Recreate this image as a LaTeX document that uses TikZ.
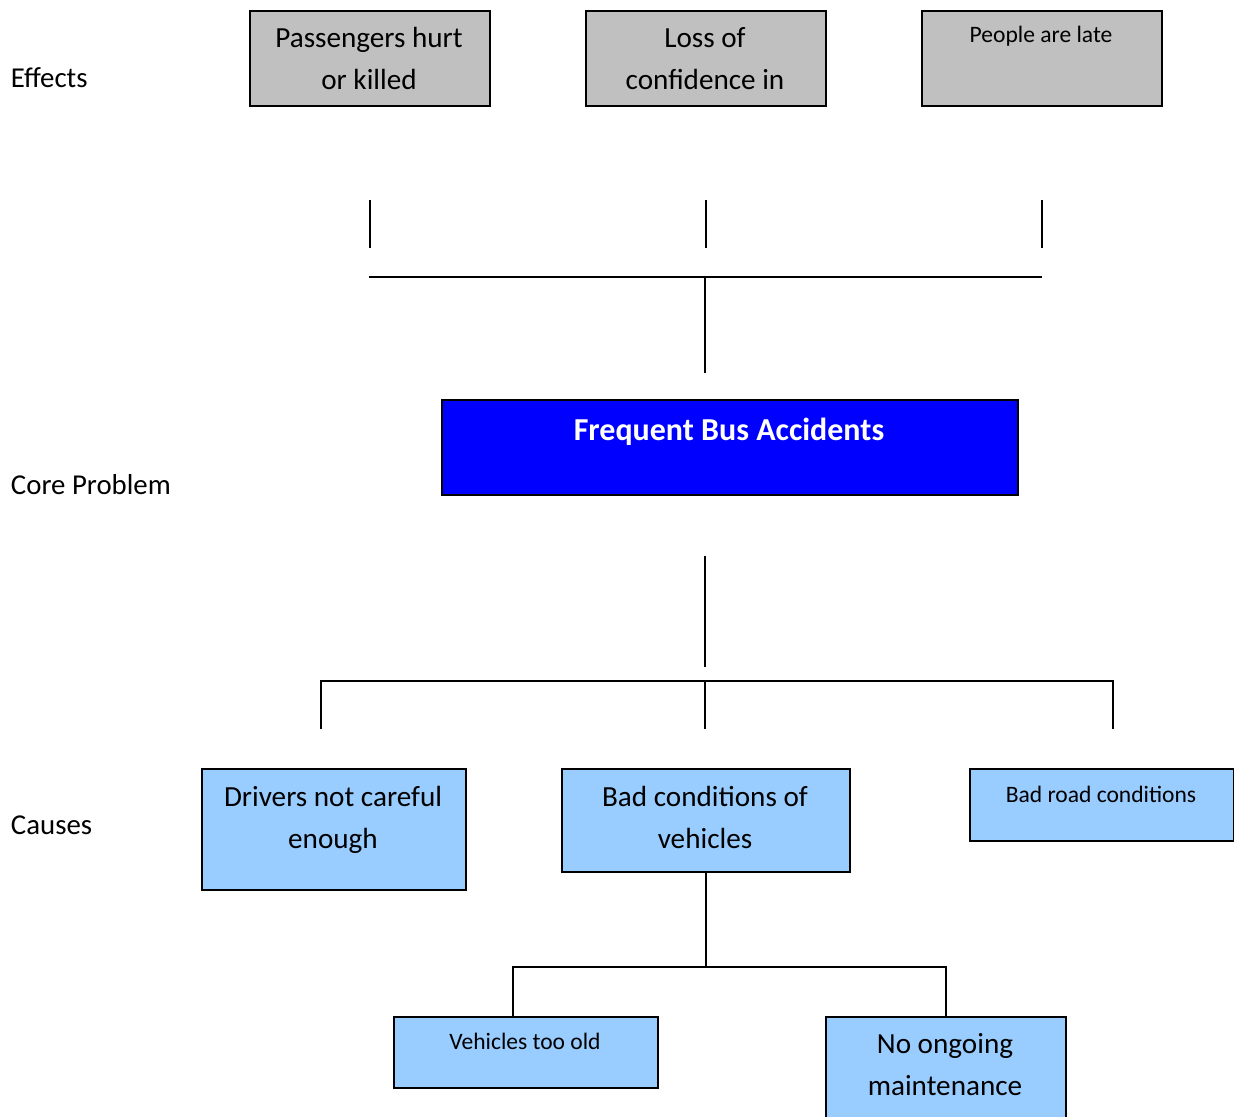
\documentclass[tikz,border=0pt]{standalone}
\usepackage{fontspec}
\setmainfont{Carlito}
\definecolor{effectgrey}{HTML}{C0C0C0}
\definecolor{causeblue}{HTML}{99CCFF}
\definecolor{coreblue}{HTML}{0000FF}

\begin{document}
\begin{tikzpicture} [x=0.02cm, y=-0.02cm, line width=1.1pt]
    \tikzset{box/.style={%
      draw,%
      rectangle,%
      anchor=north west,%
      inner sep=0pt}%
    };
\tikzset{effectbox/.style={box, fill=effectgrey, minimum width=4.8cm, minimum height=1.9cm}};
\tikzset{causebox/.style={box, fill=causeblue}};
\tikzset{txt/.style={anchor=base, align=center, inner sep=0pt, font=\fontsize{16.6}{23.6}\selectfont}};
\tikzset{smalltxt/.style={txt, font=\fontsize{13.4}{19}\selectfont}};
\tikzset{sidetxt/.style={anchor=base west, inner sep=0pt, font=\fontsize{16.4}{20}\selectfont}};

\useasboundingbox (0,0) rectangle (1234,1116);

%row labels
\node[sidetxt] (effects) at (10,87) {Effects};
\node[sidetxt] (coreLabel) at (10,494) {Core Problem};
\node[sidetxt] (causes) at (10,834) {Causes};

%effects (base = last line)
\node[effectbox] (eff1) at (249,10) {};
\node[effectbox] (eff2) at (585,10) {};
\node[effectbox] (eff3) at (921,10) {};
\node[txt] (eff1txt) at (369,89) {Passengers hurt\\or killed};
\node[txt] (eff2txt) at (705,89) {Loss of\\confidence in};
\node[smalltxt] (eff3txt) at (1041,42) {People are late};

%effect ticks
\path (eff1.south) ++(0,93) coordinate (e1top) ++(0,48) coordinate (e1bot);
\path (eff2.south) ++(0,93) coordinate (e2top) ++(0,48) coordinate (e2bot);
\path (eff3.south) ++(0,93) coordinate (e3top) ++(0,48) coordinate (e3bot);
\draw (e1top) -- (e1bot);
\draw (e2top) -- (e2bot);
\draw (e3top) -- (e3bot);

%bar above core problem
\coordinate (ebarL) at (369,277);
\coordinate (ebarR) at (1042,277);
\coordinate (ebarM) at (705,277);
\coordinate (ebarEnd) at (705,373);
\draw (ebarL) -- (ebarR);
\draw (ebarM) -- (ebarEnd);

%core problem
\node[box, fill=coreblue, minimum width=11.52cm, minimum height=1.9cm] (core) at (441,399) {};
\node[txt, text=white, font=\fontsize{18.2}{22}\selectfont\bfseries] (coretxt) at (729,440) {Frequent Bus Accidents};

%bar below core problem
\coordinate (cstemTop) at (705,556);
\coordinate (cstemEnd) at (705,667);
\coordinate (cbarL) at (321,681);
\coordinate (cbarM) at (705,681);
\coordinate (cbarR) at (1113,681);
\draw (cstemTop) -- (cstemEnd);
\draw (cbarL) ++(0,48) coordinate (c1end) -- (cbarL) -- (cbarR) -- ++(0,48) coordinate (c3end);
\draw (cbarM) -- ++(0,48) coordinate (c2end);

%causes
\node[causebox, minimum width=5.28cm, minimum height=2.42cm] (cause1) at (201,768) {};
\node[causebox, minimum width=5.76cm, minimum height=2.06cm] (cause2) at (561,768) {};
\node[causebox, minimum width=5.28cm, minimum height=1.44cm] (cause3) at (969,768) {};
\node[txt] (cause1txt) at (333,848) {Drivers not careful\\enough};
\node[txt] (cause2txt) at (705,848) {Bad conditions of\\vehicles};
\node[smalltxt] (cause3txt) at (1101,802) {Bad road conditions};

%sub causes
\node[causebox, minimum width=5.28cm, minimum height=1.42cm] (sub1) at (393,1016) {};
\node[causebox, minimum width=4.8cm, minimum height=2.42cm] (sub2) at (825,1016) {};
\node[smalltxt] (sub1txt) at (525,1049) {Vehicles too old};
\node[txt] (sub2txt) at (945,1095) {No ongoing\\maintenance};

\coordinate (vL) at (513,967);
\draw (cause2.south) -- (cause2.south |- vL) coordinate (vjoin);
\draw (vL |- sub1.north) -- (vL) -- (sub2.north |- vL) -- (sub2.north);

\end{tikzpicture}
\end{document}
